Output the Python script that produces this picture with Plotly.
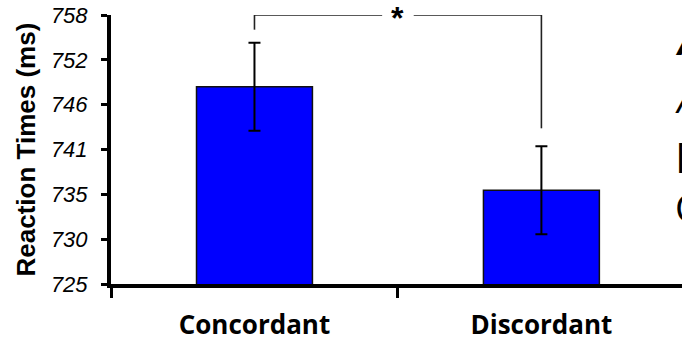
import numpy as np
import plotly.graph_objects as go

categories = ["Concordant", "Discordant"]
mean_rt = [749.2, 736.5]
sem_rt = [5.4, 5.4]
y_min, y_max = 725, 758
tick_values = list(np.linspace(y_min, y_max, 7))
tick_labels = ["725", "730", "735", "741", "746", "752", "758"]
side_text = ["A", "/", "M", "C"]

fig = go.Figure()
fig.add_trace(go.Bar(
    x=categories, y=mean_rt, width=0.404,
    marker=dict(color="#0000FF", line=dict(color="#111111", width=1.5)),
    error_y=dict(type="data", array=sem_rt, color="black", thickness=2, width=6),
))

# significance bracket (built from data positions)
left_bottom = mean_rt[0] + sem_rt[0] + 1.6
right_bottom = mean_rt[1] + sem_rt[1] + 2.2
gap = 0.055
line_style = dict(color="#222222", width=1.6)
fig.add_shape(type="line", xref="x", yref="y", x0=0, x1=0, y0=left_bottom, y1=y_max, line=line_style)
fig.add_shape(type="line", xref="x", yref="y", x0=1, x1=1, y0=right_bottom, y1=y_max, line=line_style)
fig.add_shape(type="line", xref="x", yref="y", x0=0, x1=0.5 - gap, y0=y_max, y1=y_max, line=line_style)
fig.add_shape(type="line", xref="x", yref="y", x0=0.5 + gap, x1=1, y0=y_max, y1=y_max, line=line_style)
fig.add_annotation(x=0.5, y=y_max, xref="x", yref="y", text="<b>*</b>", showarrow=False,
                   font=dict(family="Liberation Sans", size=32, color="black"), yshift=-3)

# y axis title
fig.add_annotation(x=-0.1506, y=0.5, xref="paper", yref="paper", text="<b>Reaction Times (ms)</b>",
                   textangle=-90, showarrow=False, xanchor="center", yanchor="middle",
                   font=dict(family="Liberation Sans", size=26, color="black"))

# cropped slide text at the right edge
side_y = [0.90, 0.69, 0.475, 0.285]
side_fonts = [dict(size=36, weight="bold", style="italic"), dict(size=38, style="italic"),
              dict(size=42), dict(size=38)]
for t, yy, f in zip(side_text, side_y, side_fonts):
    fig.add_annotation(x=0.9845, y=yy, xref="paper", yref="paper", text=t, showarrow=False,
                       xanchor="left", yanchor="middle",
                       font=dict(family="Open Sans", color="black", **f))

fig.update_layout(
    width=682, height=342,
    margin=dict(l=111, r=0, t=15, b=58),
    paper_bgcolor="white", plot_bgcolor="white",
    showlegend=False,
)
fig.update_xaxes(
    type="category", range=[-0.5, 1.49], tickson="boundaries",
    showline=True, linecolor="black", linewidth=4,
    ticks="outside", ticklen=10, tickwidth=3, tickcolor="black",
    ticklabelstandoff=15,
    tickfont=dict(family="Open Sans", size=26, weight="bold", color="black"),
    showgrid=False, zeroline=False,
)
fig.update_yaxes(
    range=[y_min, y_max], tickvals=tick_values, ticktext=tick_labels,
    showline=True, linecolor="black", linewidth=4,
    ticks="outside", ticklen=6, tickwidth=3, tickcolor="black",
    ticklabelstandoff=9, ticklabeloverflow="allow",
    tickfont=dict(family="Liberation Sans", size=22, style="italic", color="black"),
    showgrid=False, zeroline=False,
)
fig.write_html(
    "out.html",
    config={"displayModeBar": False},
    post_script="document.body.style.margin='0';document.documentElement.style.overflow='hidden';",
)
